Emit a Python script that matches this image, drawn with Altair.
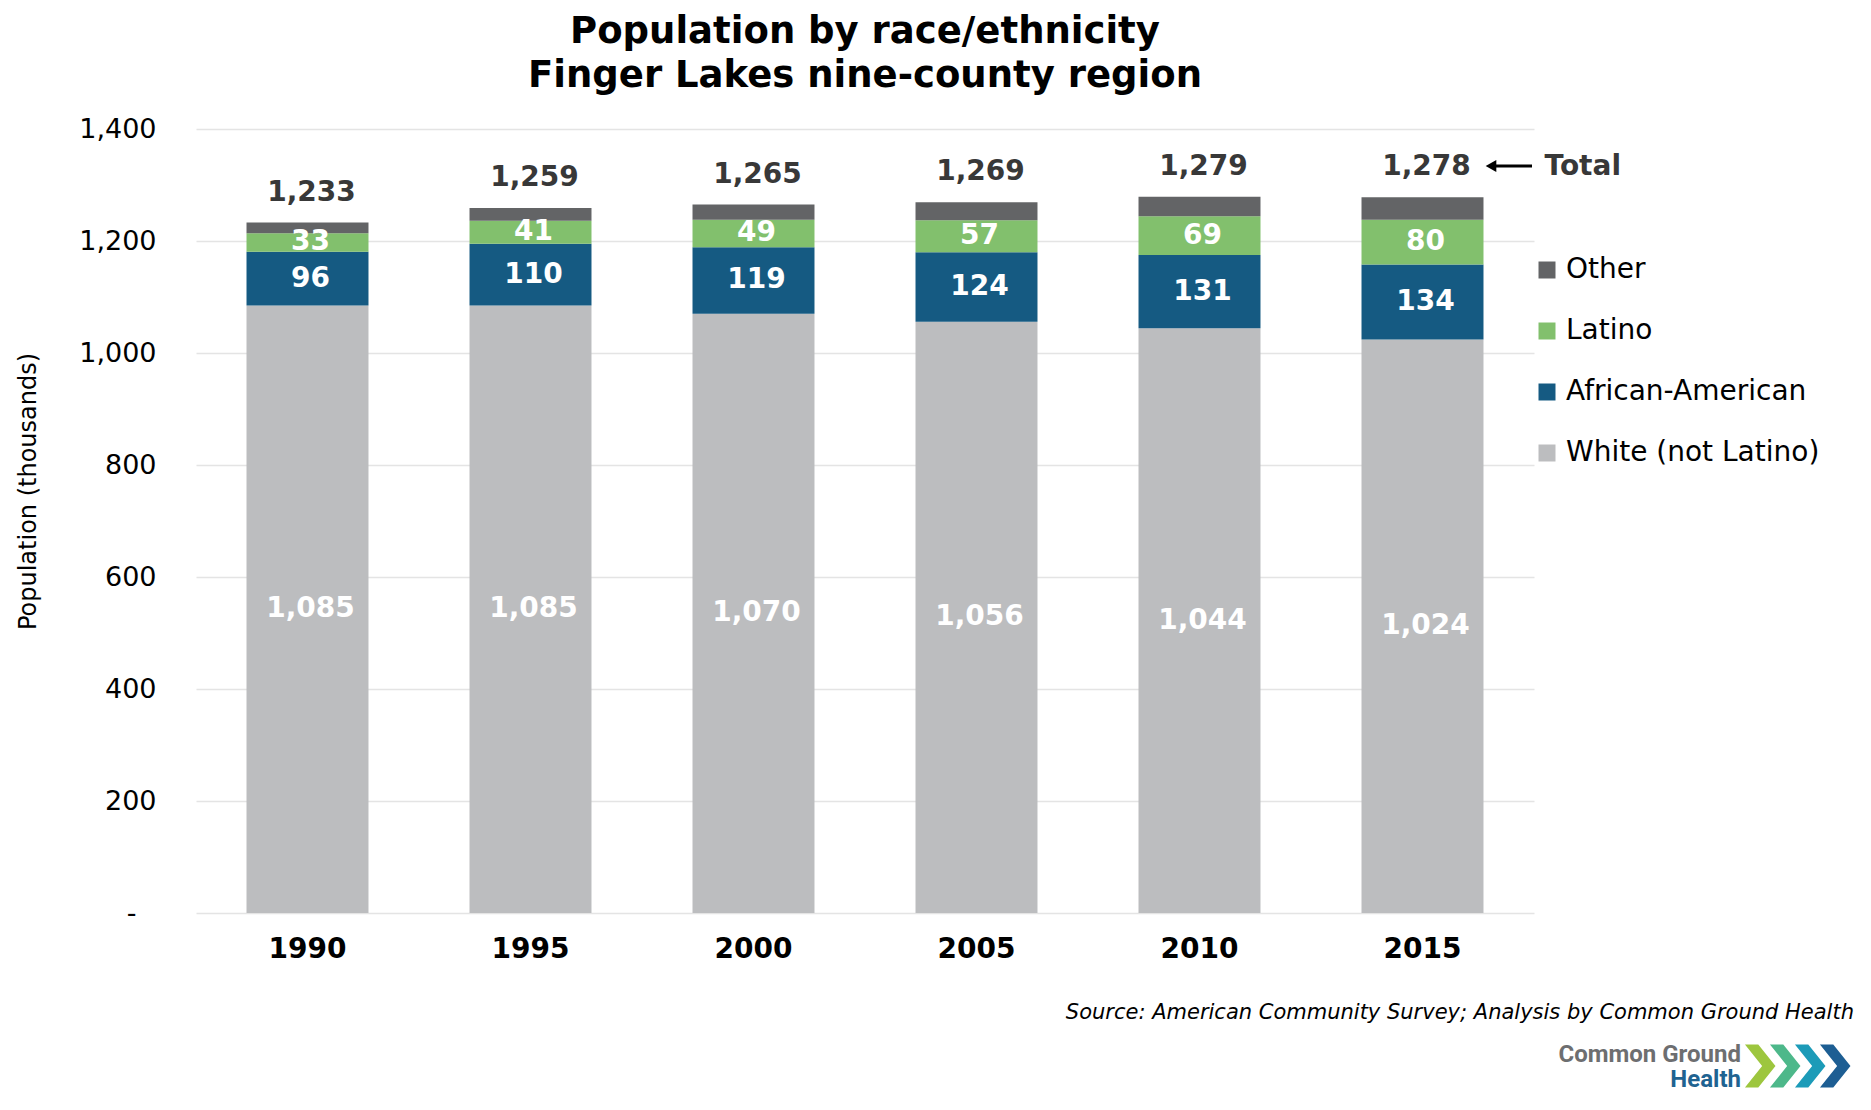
import pandas as pd
import altair as alt

# values (thousands of people)
years = ["1990", "1995", "2000", "2005", "2010", "2015"]
white = [1085, 1085, 1070, 1056, 1044, 1024]
african_american = [96, 110, 119, 124, 131, 134]
latino = [33, 41, 49, 57, 69, 80]
other = [19, 23, 27, 32, 35, 40]
totals = [1233, 1259, 1265, 1269, 1279, 1278]

groups = ["White (not Latino)", "African-American", "Latino", "Other"]
legend_order = ["Other", "Latino", "African-American", "White (not Latino)"]
legend_colors = ["#636466", "#82C06D", "#155A82", "#BCBDBF"]
y_ticks = [0, 200, 400, 600, 800, 1000, 1200, 1400]

rows = []
for i, yr in enumerate(years):
    for k, vals in enumerate([white, african_american, latino, other]):
        rows.append({"Year": yr, "Group": groups[k], "Value": vals[i], "Order": k})
df = pd.DataFrame(rows)
df_total = pd.DataFrame({"Year": years, "Total": totals})
one = pd.DataFrame({"k": [0]})

FONT = "DejaVu Sans"

x_enc = alt.X(
    "Year:N", sort=years,
    scale=alt.Scale(paddingInner=0.453, paddingOuter=0.2265),
    axis=alt.Axis(title=None, labelAngle=0, labelFontSize=28, labelFontWeight="bold",
                  labelColor="#000000", ticks=False, tickSize=0, domain=False,
                  labelPadding=22)
)

y_scale = alt.Scale(domain=[0, 1400], nice=False)
y_axis = alt.Axis(
    values=y_ticks, title="Population (thousands)",
    labelExpr="datum.value == 0 ? '-' : format(datum.value, ',')",
    labelFontSize=27, labelColor="#000000", ticks=False, tickSize=0,
    domain=False,
    labelPadding=alt.condition("datum.value == 0", alt.value(60), alt.value(40)),
    gridColor="#E4E4E4", gridWidth=1.3,
    titleFontSize=24, titleFontWeight="normal", titleColor="#000000",
    titleX=-168, titleY=362, titleAngle=270, titleAlign="center",
    titleBaseline="middle"
)

bars = alt.Chart(df).mark_bar().encode(
    x=x_enc,
    y=alt.Y("Value:Q", stack="zero", scale=y_scale, axis=y_axis),
    color=alt.Color(
        "Group:N",
        scale=alt.Scale(domain=legend_order, range=legend_colors),
        legend=alt.Legend(
            title=None, orient="none", legendX=1337, legendY=127, padding=0,
            symbolType="square", symbolSize=289, symbolStrokeWidth=0,
            labelFontSize=28, labelColor="#000000", labelOffset=5,
            labelLimit=400, rowPadding=33
        )
    ),
    order=alt.Order("Order:Q", sort="ascending")
)

# white labels in the middle of each coloured segment
seg_labels = alt.Chart(df).transform_stack(
    stack="Value", groupby=["Year"],
    sort=[alt.SortField("Order", order="ascending")], as_=["v0", "v1"]
).transform_filter(
    "datum.Group != 'Other'"
).transform_calculate(
    mid="(datum.v0 + datum.v1) / 2"
).mark_text(
    fontSize=28, fontWeight="bold", color="white", baseline="middle", dx=3
).encode(
    x=alt.X("Year:N", sort=years),
    y=alt.Y("mid:Q", scale=y_scale, axis=y_axis),
    text=alt.Text("Value:Q", format=",")
)

total_labels = alt.Chart(df_total).mark_text(
    fontSize=28, fontWeight="bold", color="#383838", baseline="middle", dy=-30, dx=4
).encode(
    x=alt.X("Year:N", sort=years),
    y=alt.Y("Total:Q", scale=y_scale, axis=y_axis),
    text=alt.Text("Total:Q", format=",")
)

total_word = alt.Chart(df_total).transform_filter(
    "datum.Year == '2015'"
).mark_text(
    fontSize=28, fontWeight="bold", color="#383838", baseline="middle",
    align="left", dy=-30, dx=122
).encode(
    x=alt.X("Year:N", sort=years),
    y=alt.Y("Total:Q", scale=y_scale, axis=y_axis),
    text=alt.value("Total")
)

arrow_line = alt.Chart(one).mark_rule(color="black", strokeWidth=3).encode(
    x=alt.value(1296), x2=alt.value(1336), y=alt.value(37)
)
arrow_head = alt.Chart(one).mark_point(
    shape="triangle-left", filled=True, color="black", opacity=1, size=150
).encode(x=alt.value(1295), y=alt.value(37))

source = alt.Chart(one).mark_text(
    fontSize=21, fontStyle="italic", align="right", baseline="middle", color="#000000"
).encode(
    x=alt.value(1658), y=alt.value(884),
    text=alt.value("Source: American Community Survey; Analysis by Common Ground Health")
)

logo_top = alt.Chart(one).mark_text(
    font="Roboto", fontSize=24, fontWeight="bold", align="right", baseline="middle",
    color="#6D6E70"
).encode(x=alt.value(1545), y=alt.value(926), text=alt.value("Common Ground"))
logo_bottom = alt.Chart(one).mark_text(
    font="Roboto", fontSize=24, fontWeight="bold", align="right", baseline="middle",
    color="#1F6391"
).encode(x=alt.value(1545), y=alt.value(951), text=alt.value("Health"))

chevron = "M-0.7,-1 L-0.08,-1 L0.72,0 L-0.08,1 L-0.7,1 L0.1,0 Z"
chev_colors = ["#9DC63E", "#4DB88A", "#1C9BB8", "#1D5E93"]
chevrons = [
    alt.Chart(one).mark_point(
        shape=chevron, filled=True, color=c, opacity=1, size=1849, strokeWidth=0
    ).encode(x=alt.value(1564 + 25 * i), y=alt.value(937))
    for i, c in enumerate(chev_colors)
]

chart = alt.layer(
    bars, seg_labels, total_labels, total_word, arrow_line, arrow_head,
    source, logo_top, logo_bottom, *chevrons
).properties(
    width=1338, height=784,
    padding={"left": 188, "top": 121, "right": 329, "bottom": 180},
    autosize="none",
    title=alt.TitleParams(
        text=["Population by race/ethnicity", "Finger Lakes nine-county region"],
        fontSize=37, fontWeight="bold", color="#000000", anchor="middle",
        frame="group", lineHeight=44, offset=20
    )
).configure(
    font=FONT
).configure_view(
    stroke=None
)

chart.save("out.html", embed_options={"renderer": "svg", "actions": False})
